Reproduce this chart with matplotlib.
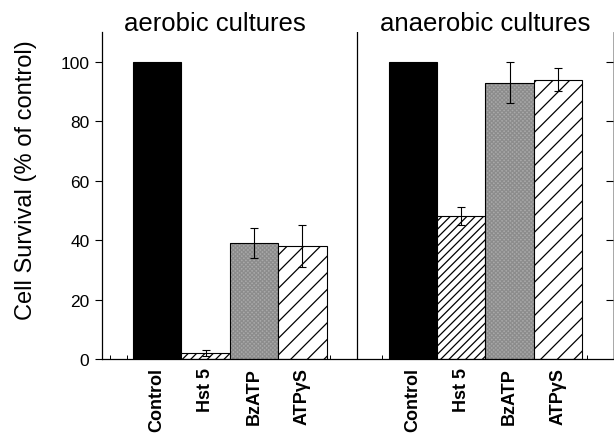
import numpy as np
import matplotlib.pyplot as plt

plt.rcParams['font.family'] = ['Liberation Sans', 'DejaVu Sans']
plt.rcParams['hatch.linewidth'] = 0.9

treatments = ['Control', 'Hst 5', 'BzATP', 'ATP\u03b3S']
aerobic = [100, 2, 39, 38]
aerobic_err = [0, 1, 5, 7]
anaerobic = [100, 48, 93, 94]
anaerobic_err = [0, 3, 7, 4]
groups = ['aerobic cultures', 'anaerobic cultures']

pos_aer = np.array([1, 2, 3, 4])
pos_ana = pos_aer + 5.28

fig = plt.figure(figsize=(6.14, 4.35), dpi=100)
ax = fig.add_axes([0.1661, 0.1724, 0.8325, 0.7517])

styles = [
    dict(color='black', hatch=None),
    dict(color='white', hatch='////'),
    dict(color='#a9a9a9', hatch='xxxxxxxx'),
    dict(color='white', hatch='//'),
]

for pos, vals, errs in [(pos_aer, aerobic, aerobic_err), (pos_ana, anaerobic, anaerobic_err)]:
    for i in range(4):
        st = styles[i]
        if i == 2:
            # stippled grey: grey fill with fine darker cross hatch
            ax.bar(pos[i], vals[i], width=1.0, color=st['color'], hatch=st['hatch'],
                   edgecolor='#8c8c8c', linewidth=0)
            ax.bar(pos[i], vals[i], width=1.0, facecolor='none', edgecolor='black', linewidth=0.8)
        else:
            ax.bar(pos[i], vals[i], width=1.0, color=st['color'], hatch=st['hatch'],
                   edgecolor='black', linewidth=0.8)
        if errs[i] > 0:
            ax.errorbar(pos[i], vals[i], yerr=errs[i], fmt='none', ecolor='black',
                        elinewidth=0.8, capsize=3, capthick=0.8)

ax.set_xlim(-0.14, 10.42)
ax.set_ylim(0, 110)
ax.axvline(5.12, color='black', lw=0.9)

ax.set_yticks([0, 20, 40, 60, 80, 100])
ax.tick_params(axis='y', direction='out', length=5, width=0.8, labelsize=12.5, pad=4)
ax.set_xticks(np.concatenate([pos_aer, pos_ana]))
ax.set_xticklabels(treatments * 2, rotation=90, fontweight='bold', fontsize=13)
ax.tick_params(axis='x', length=0, pad=6)
ax.set_xticks([0.03, 0.38, 3.0, 4.58, 5.65, 8.28, 9.88], minor=True)
ax.tick_params(axis='x', which='minor', direction='in', length=3, width=0.7)

ax.spines['top'].set_visible(False)
ax.spines['right'].set_color('#999999')
ax.spines['right'].set_linewidth(0.6)
ax.spines['left'].set_linewidth(0.9)
ax.spines['bottom'].set_linewidth(0.9)

# inward ticks on the right edge
ax2 = ax.twinx()
ax2.set_ylim(ax.get_ylim())
ax2.set_yticks([20, 40, 60, 80, 100])
ax2.tick_params(axis='y', direction='in', length=5, width=0.8, labelright=False)
for s in ['top', 'left', 'bottom', 'right']:
    ax2.spines[s].set_visible(False)

ax.set_ylabel('Cell Survival (% of control)', fontsize=17)
ax.yaxis.set_label_coords(-0.127, 0.55)

ax.text(2.2, 1.005, groups[0], transform=ax.get_xaxis_transform(), ha='center',
        va='baseline', fontsize=18.5)
ax.text(7.78, 1.005, groups[1], transform=ax.get_xaxis_transform(), ha='center',
        va='baseline', fontsize=18.5)

fig.savefig('out.png', dpi=100)
